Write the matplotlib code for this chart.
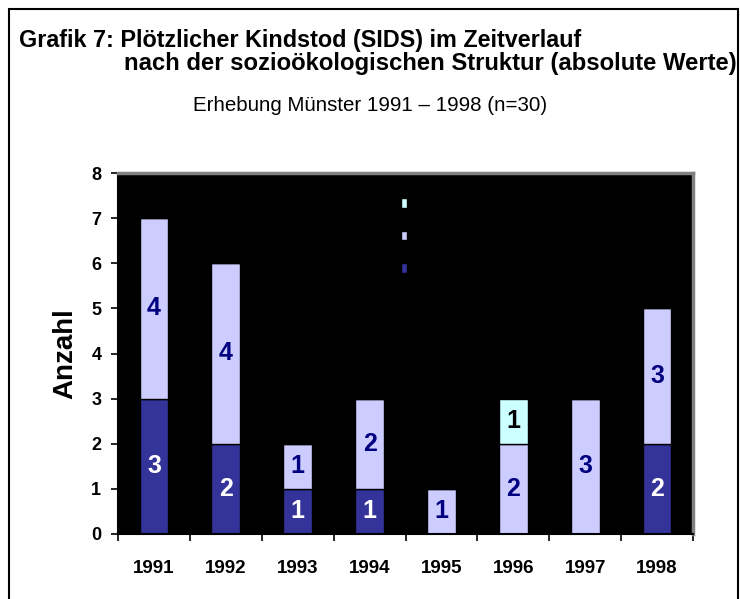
import matplotlib
matplotlib.use("Agg")
import matplotlib.pyplot as plt
from matplotlib.patches import Rectangle
import numpy as np

plt.rcParams['font.family'] = ['Liberation Sans', 'DejaVu Sans']

years = ['1991', '1992', '1993', '1994', '1995', '1996', '1997', '1998']
series_a = [3, 2, 1, 1, 0, 0, 0, 2]   # dark blue (bottom)
series_b = [4, 4, 1, 2, 1, 2, 3, 3]   # lavender (middle)
series_c = [0, 0, 0, 0, 0, 1, 0, 0]   # light cyan (top)
yticks = [0, 1, 2, 3, 4, 5, 6, 7, 8]

title1 = 'Grafik 7: Plötzlicher Kindstod (SIDS) im Zeitverlauf'
title2 = 'nach der sozioökologischen Struktur (absolute Werte)'
subtitle = 'Erhebung Münster 1991 – 1998 (n=30)'

col_a, col_b, col_c = '#333399', '#CCCCFF', '#CCFFFF'
txt_a, txt_b, txt_c = 'white', '#000080', 'black'

fig = plt.figure(figsize=(7.40, 5.99), dpi=100)
fig.patches.append(Rectangle((9/740, -0.01), (738-9)/740, 1 - 9/599 + 0.01,
                             transform=fig.transFigure, fill=False,
                             edgecolor='black', linewidth=1.5))
ax = fig.add_axes([118/740, 1-534/599, (693-118)/740, (534-173)/599])
ax.set_facecolor('black')

x = np.arange(len(years))
w = 0.4
a = np.array(series_a); b = np.array(series_b); c = np.array(series_c)
ax.bar(x, a, w, color=col_a, edgecolor='black', linewidth=1, label=' ')
ax.bar(x, b, w, bottom=a, color=col_b, edgecolor='black', linewidth=1, label=' ')
ax.bar(x, c, w, bottom=a+b, color=col_c, edgecolor='black', linewidth=1, label=' ')

lab_fs = 18
for i in range(len(years)):
    if a[i] > 0:
        ax.text(x[i], a[i]/2, str(a[i]), ha='center', va='center', color=txt_a,
                fontsize=lab_fs, fontweight='bold')
    if b[i] > 0:
        ax.text(x[i], a[i] + b[i]/2, str(b[i]), ha='center', va='center', color=txt_b,
                fontsize=lab_fs, fontweight='bold')
    if c[i] > 0:
        ax.text(x[i], a[i] + b[i] + c[i]/2, str(c[i]), ha='center', va='center', color=txt_c,
                fontsize=lab_fs, fontweight='bold')

ax.set_xlim(-0.5, len(years) - 0.5)
ax.set_ylim(0, 8)
ax.set_yticks(yticks)
ax.set_yticklabels([str(v) for v in yticks], fontsize=13, fontweight='bold')
ax.set_xticks(x)
ax.set_xticklabels(years, fontsize=13.5, fontweight='bold')
ax.tick_params(axis='x', which='major', length=0, pad=19)
ax.set_xticks(np.arange(-0.5, len(years)), minor=True)
ax.tick_params(axis='x', which='minor', length=5, width=1.2, direction='out')
ax.tick_params(axis='y', length=5, width=1.2, direction='out', pad=7)

for s in ['left', 'bottom']:
    ax.spines[s].set_color('black'); ax.spines[s].set_linewidth(1.5)
for s in ['top', 'right']:
    ax.spines[s].set_color('#808080'); ax.spines[s].set_linewidth(2.5)

ax.set_ylabel('Anzahl', fontsize=20, fontweight='bold')
ax.yaxis.set_label_coords((78 - 118)/575, 0.5)

h, l = ax.get_legend_handles_labels()
leg = ax.legend(h[::-1], l[::-1], loc='center', bbox_to_anchor=(0.505, 0.823),
                frameon=False, handlelength=0.45, handleheight=0.6,
                labelspacing=1.22, fontsize=11, labelcolor='black',
                handletextpad=0.3)

fig.text(19/740, 1-47/599, title1, fontsize=16.8, fontweight='bold', va='baseline', ha='left')
fig.text(124/740, 1-70/599, title2, fontsize=17.2, fontweight='bold', va='baseline', ha='left')
fig.text(370/740, 1-111/599, subtitle, fontsize=14.8, va='baseline', ha='center')

fig.savefig('out.png', dpi=100)
